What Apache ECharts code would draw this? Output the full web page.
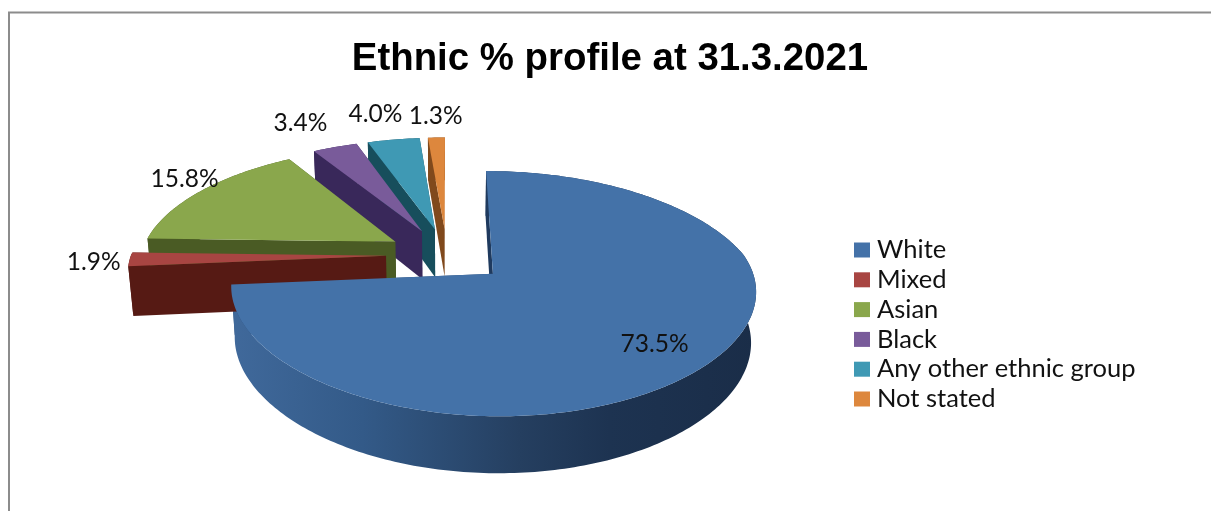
<!DOCTYPE html>
<html>
<head>
<meta charset="utf-8">
<style>html,body{margin:0;padding:0;background:#fff}#chart{width:1211px;height:511px}</style>
<script src="https://cdn.jsdelivr.net/npm/echarts@6/dist/echarts.min.js"></script>
</head>
<body>
<div id="chart"></div>
<script>
// Ethnic profile, percent of total
const categories = ['White', 'Mixed', 'Asian', 'Black', 'Any other ethnic group', 'Not stated'];
const values = [73.5, 1.9, 15.8, 3.4, 4.0, 1.3];

const topColors = ['#4472a8', '#a84542', '#8aa74c', '#795b9a', '#3f99b4', '#dd873d'];
const wallColors = ['#2c4e78', '#561a14', '#4a5b24', '#39285a', '#174e5c', '#80491c'];

// Camera model for the tilted disc
const CX = 447, CY = 255, RX = 255, RY = 113.4, DEPTH = 50;
const TILT_Y = 0.158, TILT_X_BACK = 0.18, TILT_X_FRONT = 0.125, SINK = 0.016, EXPLODE = 0.239;
// Label placement: radial factor from the slice tip, then a pixel nudge
const labelRadial = [[0.77, 0, 3], [1.14, 0, 2], [1.095, 0, -7], [1.49, 0, 10], [1.55, 0, 15], [1.11, 0, -13]];

const total = values.reduce((a, b) => a + b, 0);
const DEG = Math.PI / 180;

function project(u, v, h) {
  const tiltX = v < 0 ? TILT_X_BACK : TILT_X_FRONT;
  const wx = 1 - tiltX * v + SINK * h;
  const wy = 1 - TILT_Y * v + SINK * h;
  return [CX + RX * u / wx, CY + (RY * v + DEPTH * h) / wy];
}

function sliceAngles(i) {
  let start = 0;
  for (let k = 0; k < i; k++) start += values[k] / total * 360;
  return [start, start + values[i] / total * 360];
}

function sliceShape(i) {
  const [a0, a1] = sliceAngles(i);
  const mid = (a0 + a1) / 2 * DEG;
  const ox = EXPLODE * Math.sin(mid), oy = -EXPLODE * Math.cos(mid);
  const rim = [];
  const n = Math.max(4, Math.ceil(a1 - a0));
  for (let k = 0; k <= n; k++) {
    const t = (a0 + (a1 - a0) * k / n) * DEG;
    rim.push([ox + Math.sin(t), oy - Math.cos(t)]);
  }
  return { ox, oy, rim, mid };
}

function poly(points, fill, z2) {
  return { type: 'polygon', shape: { points }, style: { fill, stroke: null }, z2: z2 || 0, silent: true };
}

function renderSlice(i) {
  const { ox, oy, rim, mid } = sliceShape(i);
  const top = rim.map(p => project(p[0], p[1], 0));
  const bot = rim.map(p => project(p[0], p[1], 1));
  const tipT = project(ox, oy, 0), tipB = project(ox, oy, 1);
  const outerFill = i === 0 ? {
    type: 'linear', x: 0, y: 0, x2: 1, y2: 0,
    colorStops: [
      { offset: 0, color: '#40699b' }, { offset: 0.25, color: '#335a88' },
      { offset: 0.55, color: '#253f60' }, { offset: 0.72, color: '#1d3351' },
      { offset: 1, color: '#1a2d48' }
    ]
  } : wallColors[i];
  const children = [
    poly([tipT, top[top.length - 1], bot[bot.length - 1], tipB], wallColors[i], 1),
    poly(top.concat(bot.slice().reverse()), outerFill, 2),
    poly([tipT, top[0], bot[0], tipB], i === 0 ? '#1f3a5e' : wallColors[i], 3),
    poly([tipT].concat(top), topColors[i], 4)
  ];
  const [r, dx, dy] = labelRadial[i];
  const s = EXPLODE + r;
  const at = project(s * Math.sin(mid), -s * Math.cos(mid), 0);
  children.push({
    type: 'text', z2: 50, silent: true,
    style: {
      x: at[0] + dx, y: at[1] + dy, text: values[i].toFixed(1) + '%',
      fill: '#111', font: '24.5px Lato', textAlign: 'center', textVerticalAlign: 'middle'
    }
  });
  return { type: 'group', children };
}

// Back slices are painted first so nearer ones overlap them
const series = categories.map((name, i) => ({
  type: 'custom', name, coordinateSystem: 'none',
  itemStyle: { color: topColors[i] },
  data: [values[i]],
  renderItem: () => renderSlice(i)
})).reverse();

const chart = echarts.init(document.getElementById('chart'), null, { renderer: 'canvas' });
chart.setOption({
  animation: false,
  backgroundColor: '#fff',
  title: {
    text: 'Ethnic % profile at 31.3.2021', left: 605, top: 35, textAlign: 'center',
    textStyle: { fontFamily: 'Liberation Sans', fontWeight: 'bold', fontSize: 38.4, color: '#000' }
  },
  legend: {
    orient: 'vertical', left: 849, top: 232, data: categories, icon: 'rect',
    itemWidth: 16, itemHeight: 15, itemGap: 3.8,
    selectedMode: false,
    textStyle: { fontFamily: 'Lato', fontSize: 25.5, color: '#111', padding: [0, 0, 0, 2], lineHeight: 23 }
  },
  graphic: [{
    type: 'polyline', silent: true,
    shape: { points: [[9, 511], [9, 12.5], [1211, 12.5]] },
    style: { stroke: '#8c8c8c', lineWidth: 2, fill: null }
  }],
  series
});
</script>
</body>
</html>
